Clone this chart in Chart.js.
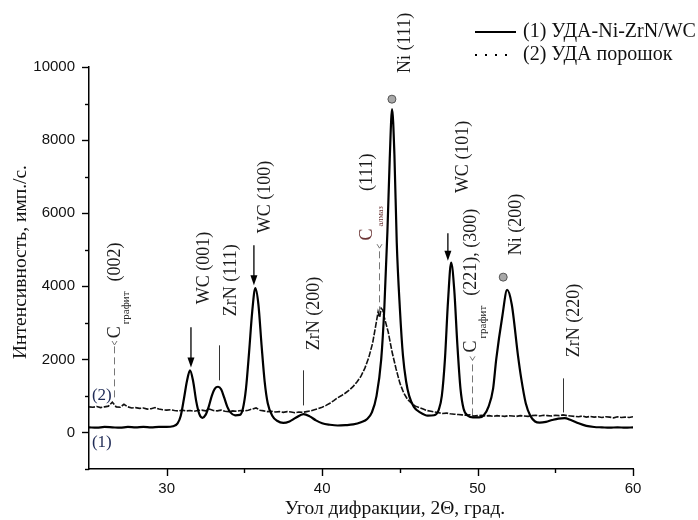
<!DOCTYPE html>
<html><head><meta charset="utf-8">
<script src="https://cdn.jsdelivr.net/npm/chart.js@4.4.1/dist/chart.umd.min.js"></script>
<style>html,body{margin:0;padding:0;background:#fff}#wrap{width:698px;height:520px}</style>
</head><body><div id="wrap"><canvas id="c" width="698" height="520"></canvas></div>
<script>
// ---- DATA ----
const seriesNames = ['(1) УДА-Ni-ZrN/WC', '(2) УДА порошок'];
const xTitle = 'Угол дифракции, 2Θ, град.';
const yTitle = 'Интенсивность, имп./с.';
const xTickLabels = [30, 40, 50, 60];
const yTickLabels = [0, 2000, 4000, 6000, 8000, 10000];

// curve (1) УДА-Ni-ZrN/WC
const angle1 = [
 25,25.5,26,26.5,27,27.5,28,28.5,29,29.5,
 30,30.4,30.7,30.9,31.1,31.3,31.5,31.7,31.9,32.1,
 32.3,32.5,32.7,32.9,33.1,33.3,33.5,33.7,33.9,34.1,
 34.4,34.7,34.9,35.1,35.3,35.5,35.7,35.9,36.1,36.3,
 36.5,36.8,37.1,37.5,37.9,38.3,38.8,39.2,39.6,40,
 40.5,41,41.5,42,42.5,42.9,43.2,43.5,43.8,44,
 44.2,44.35,44.5,44.65,44.8,45,45.2,45.4,45.6,45.9,
 46.3,46.8,47.2,47.5,47.7,47.9,48.1,48.3,48.5,48.7,
 48.9,49.1,49.4,49.7,50.1,50.4,50.7,51,51.2,51.6,
 51.9,52.2,52.6,52.8,53.1,53.4,53.7,54,54.4,54.8,
 55.2,55.6,56,56.5,57,57.5,58,58.5,59,59.5,60];
const counts1 = [
 140,130,150,140,130,150,140,150,140,150,
 150,170,250,450,900,1400,1700,1400,850,500,
 400,480,700,1000,1200,1250,1180,950,700,550,
 470,480,650,1200,2200,3300,3950,3500,2400,1400,
 800,450,320,260,300,400,500,440,330,250,
 210,190,200,220,280,370,550,1000,2000,3400,
 5500,7500,8850,7600,5200,3400,2100,1400,1000,700,
 550,460,470,620,1000,2000,3600,4650,3900,2400,
 1200,650,450,410,410,470,700,1200,2000,3200,
 3900,3500,2100,1500,800,450,300,270,290,340,
 380,390,340,250,180,150,140,130,140,130,140];

// curve (2) УДА порошок
const angle2 = [
 25,25.25,25.5,25.75,26,26.25,26.5,26.75,27,27.25,
 27.5,27.75,28,28.25,28.5,28.75,29,29.25,29.5,29.75,
 30,30.25,30.5,30.75,31,31.25,31.5,31.75,32,32.25,
 32.5,32.75,33,33.25,33.5,33.75,34,34.25,34.5,34.75,
 35,35.25,35.5,35.75,36,36.25,36.5,36.75,37,37.25,
 37.5,37.75,38,38.25,38.5,38.75,39,39.25,39.5,39.75,
 40,40.25,40.5,40.75,41,41.25,41.5,41.75,42,42.25,
 42.5,42.75,43,43.25,43.5,43.6,43.7,43.8,43.9,44,
 44.25,44.5,44.75,45,45.25,45.5,45.75,46,46.25,46.5,
 46.75,47,47.25,47.5,47.75,48,48.25,48.5,48.75,49,
 49.25,49.5,49.75,50,50.25,50.5,50.75,51,51.25,51.5,
 51.75,52,52.25,52.5,52.75,53,53.25,53.5,53.75,54,
 54.25,54.5,54.75,55,55.25,55.5,55.75,56,56.25,56.5,
 56.75,57,57.25,57.5,57.75,58,58.25,58.5,58.75,59,
 59.25,59.5,59.75,60];
const counts2 = [
 700,690,710,680,700,720,830,700,690,770,
 700,670,680,660,670,640,650,680,640,620,
 610,620,600,590,610,590,600,580,600,610,
 590,640,600,590,610,580,570,590,580,600,
 590,610,640,670,610,590,570,580,560,570,
 550,570,560,540,560,550,570,590,620,650,
 690,740,800,870,950,1010,1080,1160,1260,1390,
 1540,1760,2050,2450,3050,3300,3150,3400,3350,3150,
 2750,2200,1750,1350,1080,900,800,720,680,640,
 600,580,560,540,520,530,510,500,490,480,
 470,480,450,460,470,450,460,440,460,450,
 440,460,450,440,460,450,440,460,470,450,
 470,460,450,470,460,480,460,450,440,430,
 450,420,440,420,430,410,430,420,400,430,
 410,420,410,430];

// peak annotation texts
const peakTexts = {
 g002: ['C', 'графит', '(002)'],
 wc001: 'WC (001)', zrn111: 'ZrN (111)', wc100: 'WC (100)', zrn200: 'ZrN (200)',
 alm: ['C', 'алмаз', '(111)'],
 ni111: 'Ni (111)', wc101: 'WC (101)',
 g221: ['C', 'графит', '(221), (300)'],
 ni200: 'Ni (200)', zrn220: 'ZrN (220)'
};

// ---- LAYOUT / STYLE of annotations (data coordinates) ----
const SERIF = '"Liberation Serif", "Times New Roman", serif';
const SANS = '"Liberation Sans", Arial, sans-serif';
const deco = {
 arrows: [ {x:31.56, y0:2877, y1:1780}, {x:35.61, y0:5124, y1:4030}, {x:48.09, y0:5453, y1:4700} ],
 lines: [ {x:33.36, y0:1425, y1:2384}, {x:38.76, y0:740, y1:1700}, {x:55.48, y0:548, y1:1480} ],
 dashed: [ {x:26.6, y0:960, y1:2420}, {x:43.65, y0:3260, y1:5070}, {x:49.63, y0:466, y1:2000} ],
 circles: [ {x:44.49, y:9120}, {x:51.65, y:4250} ],
 labels: [
  {k:'wc001', x:32.4, y:3507}, {k:'zrn111', x:34.13, y:3178}, {k:'wc100', x:36.32, y:5453},
  {k:'zrn200', x:39.47, y:2247}, {k:'ni111', x:45.32, y:9837}, {k:'wc101', x:49.05, y:6549},
  {k:'ni200', x:52.52, y:4850}, {k:'zrn220', x:56.25, y:2055}
 ],
 composite: [
  {k:'g002', x:26.7, y:2580, sub:11, dy:11, gap:10, color:'#222'},
  {k:'alm', x:42.88, y:5250, sub:8.5, dy:14, gap:15, color:'#6a3434'},
  {k:'g221', x:49.6, y:2190, sub:11, dy:12, gap:10, color:'#222'}
 ],
 curveTags: [ {t:'(2)', x:25.19, y:1014}, {t:'(1)', x:25.19, y:-274} ]
};

function vtext(ctx, px, py, str, size, color, dy) {
  ctx.save(); ctx.translate(px, py); ctx.rotate(-Math.PI/2);
  ctx.font = size + 'px ' + SERIF; ctx.fillStyle = color || '#1a1a1a';
  ctx.textAlign = 'left'; ctx.textBaseline = 'middle';
  ctx.fillText(str, 0, dy || 0);
  ctx.restore();
}

const decoPlugin = {
  id: 'deco',
  afterDraw(chart) {
    const ctx = chart.ctx, xs = chart.scales.x, ys = chart.scales.y, a = chart.chartArea;
    const X = v => xs.getPixelForValue(v), Y = v => ys.getPixelForValue(v);
    ctx.save();
    // ticks
    ctx.strokeStyle = '#000'; ctx.lineWidth = 1.4;
    xs.ticks.forEach(t => {
      if (t.value === xs.min) return;
      const p = Math.round(X(t.value)) + 0.5, L = xTickLabels.includes(t.value) ? 7 : 4;
      ctx.beginPath(); ctx.moveTo(p, a.bottom); ctx.lineTo(p, a.bottom + L); ctx.stroke();
    });
    ys.ticks.forEach(t => {
      const p = Math.round(Y(t.value)) + 0.5, L = yTickLabels.includes(t.value) ? 7 : 4;
      ctx.beginPath(); ctx.moveTo(a.left - L, p); ctx.lineTo(a.left, p); ctx.stroke();
    });
    // thin vertical lines
    ctx.strokeStyle = '#333'; ctx.lineWidth = 1;
    deco.lines.forEach(l => { const p = Math.round(X(l.x)) + 0.5; ctx.beginPath(); ctx.moveTo(p, Y(l.y0)); ctx.lineTo(p, Y(l.y1)); ctx.stroke(); });
    // dashed lines with small v at top
    ctx.strokeStyle = '#777'; ctx.lineWidth = 1;
    deco.dashed.forEach(l => {
      const p = Math.round(X(l.x)) + 0.5, top = Y(l.y1);
      ctx.setLineDash([7, 4]); ctx.beginPath(); ctx.moveTo(p, Y(l.y0)); ctx.lineTo(p, top); ctx.stroke();
      ctx.setLineDash([]); ctx.beginPath(); ctx.moveTo(p - 2.5, top - 3); ctx.lineTo(p, top + 1); ctx.lineTo(p + 2.5, top - 3); ctx.stroke();
    });
    // arrows
    ctx.strokeStyle = '#000'; ctx.fillStyle = '#000'; ctx.lineWidth = 1.3;
    deco.arrows.forEach(ar => {
      const p = X(ar.x), y0 = Y(ar.y0), y1 = Y(ar.y1);
      ctx.beginPath(); ctx.moveTo(p, y0); ctx.lineTo(p, y1 - 6); ctx.stroke();
      ctx.beginPath(); ctx.moveTo(p - 3.5, y1 - 10); ctx.lineTo(p + 3.5, y1 - 10); ctx.lineTo(p, y1); ctx.closePath(); ctx.fill();
    });
    // grey circles
    deco.circles.forEach(c => {
      ctx.beginPath(); ctx.arc(X(c.x), Y(c.y), 4, 0, Math.PI * 2);
      ctx.fillStyle = '#a8a8a8'; ctx.fill(); ctx.strokeStyle = '#555'; ctx.lineWidth = 1; ctx.stroke();
    });
    // simple labels
    deco.labels.forEach(l => vtext(ctx, X(l.x), Y(l.y), peakTexts[l.k], 18, '#1a1a1a'));
    // composite C labels
    deco.composite.forEach(c => {
      const parts = peakTexts[c.k]; let py = Y(c.y); const px = X(c.x);
      ctx.font = '18px ' + SERIF; const w0 = ctx.measureText(parts[0]).width;
      vtext(ctx, px, py, parts[0], 18, c.color);
      py -= w0 + 2;
      ctx.font = c.sub + 'px ' + SERIF; const w1 = ctx.measureText(parts[1]).width;
      vtext(ctx, px, py, parts[1], c.sub, c.color, c.dy);
      py -= w1 + c.gap;
      vtext(ctx, px, py, parts[2], 18, '#1a1a1a');
    });
    // curve tags
    ctx.font = '17px ' + SERIF; ctx.fillStyle = '#1e2a55'; ctx.textAlign = 'left'; ctx.textBaseline = 'middle';
    deco.curveTags.forEach(t => ctx.fillText(t.t, X(t.x), Y(t.y)));
    // legend
    ctx.strokeStyle = '#000'; ctx.lineWidth = 2.2;
    ctx.beginPath(); ctx.moveTo(475, 32); ctx.lineTo(516, 32); ctx.stroke();
    ctx.lineWidth = 2; ctx.setLineDash([2, 8]);
    ctx.beginPath(); ctx.moveTo(475, 55); ctx.lineTo(512, 55); ctx.stroke(); ctx.setLineDash([]);
    ctx.fillStyle = '#111'; ctx.font = '20px ' + SERIF; ctx.textBaseline = 'middle';
    ctx.fillText(seriesNames[0], 523, 32);
    ctx.fillText(seriesNames[1], 523, 55);
    // axis titles
    ctx.textAlign = 'center'; ctx.font = '19.5px ' + SERIF; ctx.fillStyle = '#111';
    ctx.fillText(xTitle, 395, 509);
    ctx.save(); ctx.translate(21, 262); ctx.rotate(-Math.PI / 2); ctx.fillText(yTitle, 0, 0); ctx.restore();
    ctx.restore();
  }
};

new Chart(document.getElementById('c'), {
  type: 'line',
  data: { datasets: [
    { label: seriesNames[0], data: angle1.map((x, i) => ({ x, y: counts1[i] })), borderColor: '#000', borderWidth: 2.2,
      pointRadius: 0, cubicInterpolationMode: 'monotone', fill: false },
    { label: seriesNames[1], data: angle2.map((x, i) => ({ x, y: counts2[i] })), borderColor: '#111', borderWidth: 1.6,
      borderDash: [6, 1.5], pointRadius: 0, tension: 0, fill: false }
  ]},
  options: {
    responsive: false, animation: false, devicePixelRatio: 1,
    layout: { padding: { left: 0, right: 65, top: 67, bottom: 0 } },
    plugins: { legend: { display: false }, tooltip: { enabled: false }, title: { display: false } },
    scales: {
      x: { type: 'linear', min: 25, max: 60,
        afterFit(s) { s.height = 51; },
        ticks: { stepSize: 5, autoSkip: false, maxRotation: 0, padding: 4, color: '#111',
          font: { family: SANS, size: 15 }, callback: v => xTickLabels.includes(v) ? String(v) : '' },
        grid: { display: true, drawOnChartArea: false, drawTicks: true, tickLength: 7, tickColor: 'rgba(0,0,0,0)' },
        border: { display: true, color: '#000', width: 1.5 } },
      y: { type: 'linear', min: -1000, max: 10000,
        afterFit(s) { s.width = 89; },
        ticks: { stepSize: 1000, autoSkip: false, padding: 7, color: '#111',
          font: { family: SANS, size: 15 }, callback: v => yTickLabels.includes(v) ? String(v) : '' },
        grid: { display: true, drawOnChartArea: false, drawTicks: true, tickLength: 7, tickColor: 'rgba(0,0,0,0)' },
        border: { display: true, color: '#000', width: 1.5 } }
    }
  },
  plugins: [decoPlugin]
});
</script></body></html>
